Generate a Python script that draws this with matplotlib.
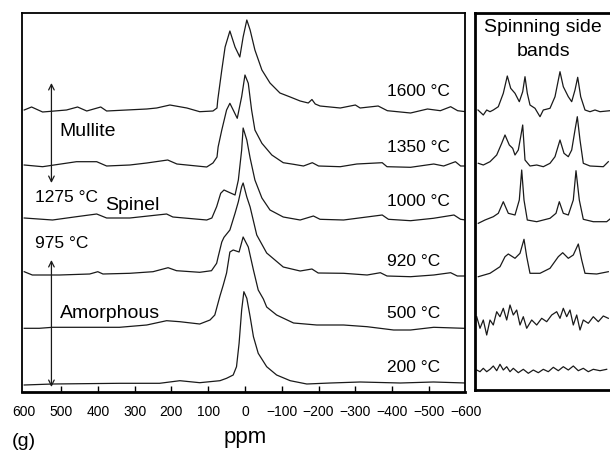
import matplotlib
matplotlib.use("Agg")
import matplotlib.pyplot as plt

plt.rcParams['font.family'] = ['Liberation Sans', 'DejaVu Sans']

# main spectra: chemical shift (ppm) and intensity above each baseline
ppm_1600 = [600, 580, 550, 485, 455, 430, 392, 376, 267, 240, 204, 158, 123, 87, 76, 74, 63, 54, 41, 27, 14, 5, -5,
            -14, -27, -46, -68, -95, -123, -150, -172, -182, -191, -204, -259, -300, -313, -362, -387, -450, -496,
            -531, -559, -578, -600]
int_1600 = [0, 3, -2, 0, 3, -1, 3, -1, 1, 2, 5, 2, -1.7, -1, 2, 10, 40, 63, 79, 63, 53, 73, 90,
            80, 60, 40, 27, 17, 13, 9, 7, 10.5, 6, 4, 2, 5, 2, 4, -0.7, -3, 1,
            -0.7, 3.3, -0.7, -1.7]

ppm_1350 = [600, 550, 458, 403, 376, 313, 267, 210, 185, 104, 87, 76, 73, 63, 50, 41, 32, 21, 9, 0, -9, -18, -27,
            -46, -73, -104, -132, -159, -183, -200, -259, -304, -373, -386, -450, -513, -540, -572, -586, -600]
int_1350 = [-1, -2.7, 2.3, 2.3, -2, -1, 1, 4, 0, -3, 1, 7, 17, 34, 54, 60.7, 54, 45.7, 67.3, 89, 80.7, 54, 34,
            20.7, 9, 1.3, -0.3, -2, 1.3, -2, -2.7, 0, 1.3, -2.7, -3.3, 0, -2, 2.3, -2, -2]

ppm_1000 = [600, 523, 458, 403, 376, 313, 213, 196, 104, 90, 77, 66, 57, 41, 27, 18, 9, 5, -5, -14, -27, -46, -68,
            -104, -150, -186, -204, -268, -373, -390, -450, -512, -568, -586, -600]
int_1000 = [2, 0, 3.3, 6, 2, 2, 6, 3, 0, 2, 13.3, 26.7, 30, 27.3, 25, 40, 70, 92, 80, 62, 40, 22, 10,
            3, 0, 4, 0.7, 0, 5, 0.7, -0.7, 1.7, 5, 0.7, 0]

ppm_920 = [600, 578, 504, 422, 400, 386, 313, 250, 209, 186, 123, 91, 77, 73, 63, 57, 41, 27, 18, 9, 5, -5, -14,
           -32, -59, -104, -150, -182, -199, -268, -332, -368, -386, -450, -513, -559, -577, -600]
int_920 = [2.3, -1, -1, 0, 2.3, 0, 0.7, 2.3, 6.3, 3.3, 1.7, 3.3, 10.7, 17, 32, 36.7, 44, 60.7, 72.3, 87.3, 91, 77, 67,
           39, 21, 7, 3, 5, 1, 0.7, -1, 1.3, -2, -2.7, -1, 1.3, -2, -2]

ppm_500 = [600, 559, 523, 431, 341, 267, 213, 177, 123, 95, 82, 68, 59, 50, 41, 32, 16, 5, -9, -23, -36, -50, -59,
           -86, -132, -195, -268, -332, -404, -450, -513, -595, -600]
int_500 = [0.7, 0.7, 1.7, 1.7, 1.7, 4, 8.3, 7.3, 5, 9, 14, 33, 44, 56, 77, 79, 77, 92, 82, 59, 39, 30, 22,
           14, 6, 4, 4, 2.3, -1, -1, 1.7, 0.7, 0.7]

ppm_200 = [600, 523, 341, 232, 177, 123, 68, 50, 32, 23, 16, 9, 3, -5, -14, -23, -36, -59, -86, -123, -168, -232,
           -313, -422, -512, -600]
int_200 = [-2, -1, -0.3, -0.3, 2.3, 0.3, 2.3, 4.7, 8, 16.3, 39.7, 73, 91.3, 84.7, 66.3, 46.3, 29.7, 16.3, 8, 2.3, -1, 0,
           1, 0, 1, 0]

# spinning side band panel: position across panel and intensity
sb_x_1600 = [3, 8.3, 11.7, 15, 18.3, 23.3, 28.3, 32.3, 35.7, 40, 44.3, 47.7, 50, 52.3, 55, 60, 65, 68.3, 75, 80, 85,
             88.3, 93.3, 96.7, 100, 102.7, 105.7, 110, 115, 120, 125, 135]
sb_y_1600 = [0, -5, 0, -1.7, 0, 3.3, 16.7, 34, 21.7, 16.7, 8.3, 18.3, 33.3, 16.7, 5, 1.7, -6.7, 0, 1.7, 13.3, 38.3,
             23.3, 13.3, 8.3, 20, 32.7, 13.3, 0, -1.7, 0, -1.7, -0.7]

sb_x_1350 = [3.3, 8.3, 15, 21.7, 26.7, 30, 34.3, 37.7, 40, 43.3, 45.7, 47.7, 50, 55, 61.7, 68.3, 75, 80, 85, 89, 93.3,
             96.7, 100, 102.3, 105, 108.3, 115, 128.3, 133.3]
sb_y_1350 = [1.7, 0, 3.3, 10, 21.7, 30, 20, 16.7, 10, 15, 28.3, 40, 5, -1, 0, -1.7, 1.7, 8.3, 25, 11.7, 8.3,
             15, 35, 48.3, 25, 1.7, -1, -1.7, 3.3]

sb_x_1000 = [3.3, 10, 18.3, 23.3, 28.3, 33.3, 40, 44.3, 46.7, 49, 52.3, 61.7, 75, 81, 84.3, 88.3, 93.3, 98.3, 101,
             104.3, 108.3, 118.3, 131.7, 135]
sb_y_1000 = [-1.3, 2, 5.3, 8.7, 20.3, 8.7, 7, 22, 52, 22, 2, 0.3, 3.7, 8.7, 20.3, 8.7, 7, 22, 51.3,
             22, 2.7, 0.3, 0.3, 3]

sb_x_920 = [3.3, 15, 25, 30, 33.3, 40, 45, 49, 51.7, 55, 65, 75, 83.3, 87.7, 93.3, 98.3, 103.3, 106.7, 110, 121.7,
            133.3]
sb_y_920 = [-0.7, 2.7, 9.3, 19.3, 22, 17.7, 22.7, 36.7, 19.3, 2.7, 2.7, 7.7, 19.3, 23.3, 17.7, 21, 32, 16, 2.7, 2,
            4.3]

sb_x_500 = [1.7, 5, 8.3, 11.7, 15, 18.3, 21.7, 25, 28.3, 31.7, 35, 38.3, 41.7, 45, 48.3, 51.7, 56.7, 61.7, 66.7,
            71.7, 76.7, 81.7, 85, 88.3, 91.7, 95, 98.3, 101.7, 105, 108.3, 113.3, 118.3, 123.3, 128.3, 133.3]
sb_y_500 = [3.3, -8.3, 0, -15, 0, -5, 8.3, 3.3, 11.7, 0, 15, 5, 10, -5, 3.3, -8.3, 0, -5, 1.7,
            -1.7, 5, 8.3, 1.7, 11.7, 3.3, 10, -5, 5, -10, 0, -3.3, 3.3, -1.7, 4, 1.7]

sb_x_200 = [1.7, 5, 8.3, 11.7, 15, 18.3, 21.7, 25, 28.3, 31.7, 35, 38.3, 43.3, 48.3, 53.3, 58.3, 63.3, 68.3, 73.3,
            78.3, 83.3, 88.3, 93.3, 98.3, 103.3, 108.3, 113.3, 118.3, 125, 131.7]
sb_y_200 = [0, -1.7, 1.7, -1.7, 0.7, 4, -0.7, 5.7, 0, 3.3, -1.7, 1.7, -2.7, 0.7, -3.3, 0, -2.7, 0.7, -1.7,
            2.7, -0.7, 3.3, 0, 4, -0.7, 1.7, -1.7, 0.7, -0.7, 0.7]

temps = ['200 °C', '500 °C', '920 °C', '1000 °C', '1350 °C', '1600 °C']
ppm_lists = [ppm_200, ppm_500, ppm_920, ppm_1000, ppm_1350, ppm_1600]
int_lists = [int_200, int_500, int_920, int_1000, int_1350, int_1600]
sb_x_lists = [sb_x_200, sb_x_500, sb_x_920, sb_x_1000, sb_x_1350, sb_x_1600]
sb_y_lists = [sb_y_200, sb_y_500, sb_y_920, sb_y_1000, sb_y_1350, sb_y_1600]

tick_ppm = [600, 500, 400, 300, 200, 100, 0, -100, -200, -300, -400, -500, -600]

# stacking offsets
offsets = [9, 63, 118, 172, 228, 282]
sb_offsets = [22, 72, 116, 170, 227, 282]
label_y = [25, 79, 131, 190, 245, 301]

W, H = 610, 450
fig = plt.figure(figsize=(6.1, 4.5), dpi=100)
ax = fig.add_axes([22 / W, 1 - 392 / H, 443 / W, 379 / H])
ax2 = fig.add_axes([475 / W, 1 - 390 / H, 150 / W, 377 / H])

lc = '#1a1a1a'
for p, v, off in zip(ppm_lists, int_lists, offsets):
    ax.plot(p, [off + i for i in v], color=lc, lw=0.9)

for t, y in zip(temps, label_y):
    ax.text(-387, y, t, fontsize=12.5, ha='left', va='center')

ax.set_xlim(606, -598)
ax.set_ylim(0, 379)
ax.set_yticks([])
ax.set_xticks(tick_ppm[1:-1])
ax.set_xticklabels([])
ax.tick_params(axis='x', direction='in', length=4, width=1, bottom=True, top=False)
for s in ax.spines.values():
    s.set_linewidth(1.3)
ax.spines['bottom'].set_linewidth(2)

# tick labels under the frame
for t in tick_ppm:
    lab = str(t).replace('-', '\u2212')
    ax.text(t, -20, lab, fontsize=10, ha='center', va='center', clip_on=False)

# phase regions
ax.annotate('', xy=(526, 309), xytext=(526, 209),
            arrowprops=dict(arrowstyle='<->', lw=0.9, color=lc, shrinkA=0, shrinkB=0))
ax.annotate('', xy=(526, 132), xytext=(526, 5),
            arrowprops=dict(arrowstyle='<->', lw=0.9, color=lc, shrinkA=0, shrinkB=0))
ax.text(504, 261, 'Mullite', fontsize=14, ha='left', va='center')
ax.text(570, 194, '1275 °C', fontsize=12.5, ha='left', va='center')
ax.text(381, 186, 'Spinel', fontsize=14, ha='left', va='center')
ax.text(570, 148, '975 °C', fontsize=12.5, ha='left', va='center')
ax.text(504, 79, 'Amorphous', fontsize=14, ha='left', va='center')

for sx, sy, off in zip(sb_x_lists, sb_y_lists, sb_offsets):
    ax2.plot(sx, [off + i for i in sy], color=lc, lw=0.9)
ax2.set_xlim(0, 150)
ax2.set_ylim(2, 379)
ax2.set_xticks([])
ax2.set_yticks([])
for s in ax2.spines.values():
    s.set_linewidth(2)

fig.text(543 / W, 1 - 27 / H, 'Spinning side', fontsize=14, ha='center', va='center')
fig.text(543 / W, 1 - 52 / H, 'bands', fontsize=14, ha='center', va='center')

fig.text(245 / W, 1 - 438 / H, 'ppm', fontsize=16, ha='center', va='center')
fig.text(12 / W, 1 - 442 / H, '(g)', fontsize=14, ha='left', va='center')

fig.savefig('out.png', dpi=100)
